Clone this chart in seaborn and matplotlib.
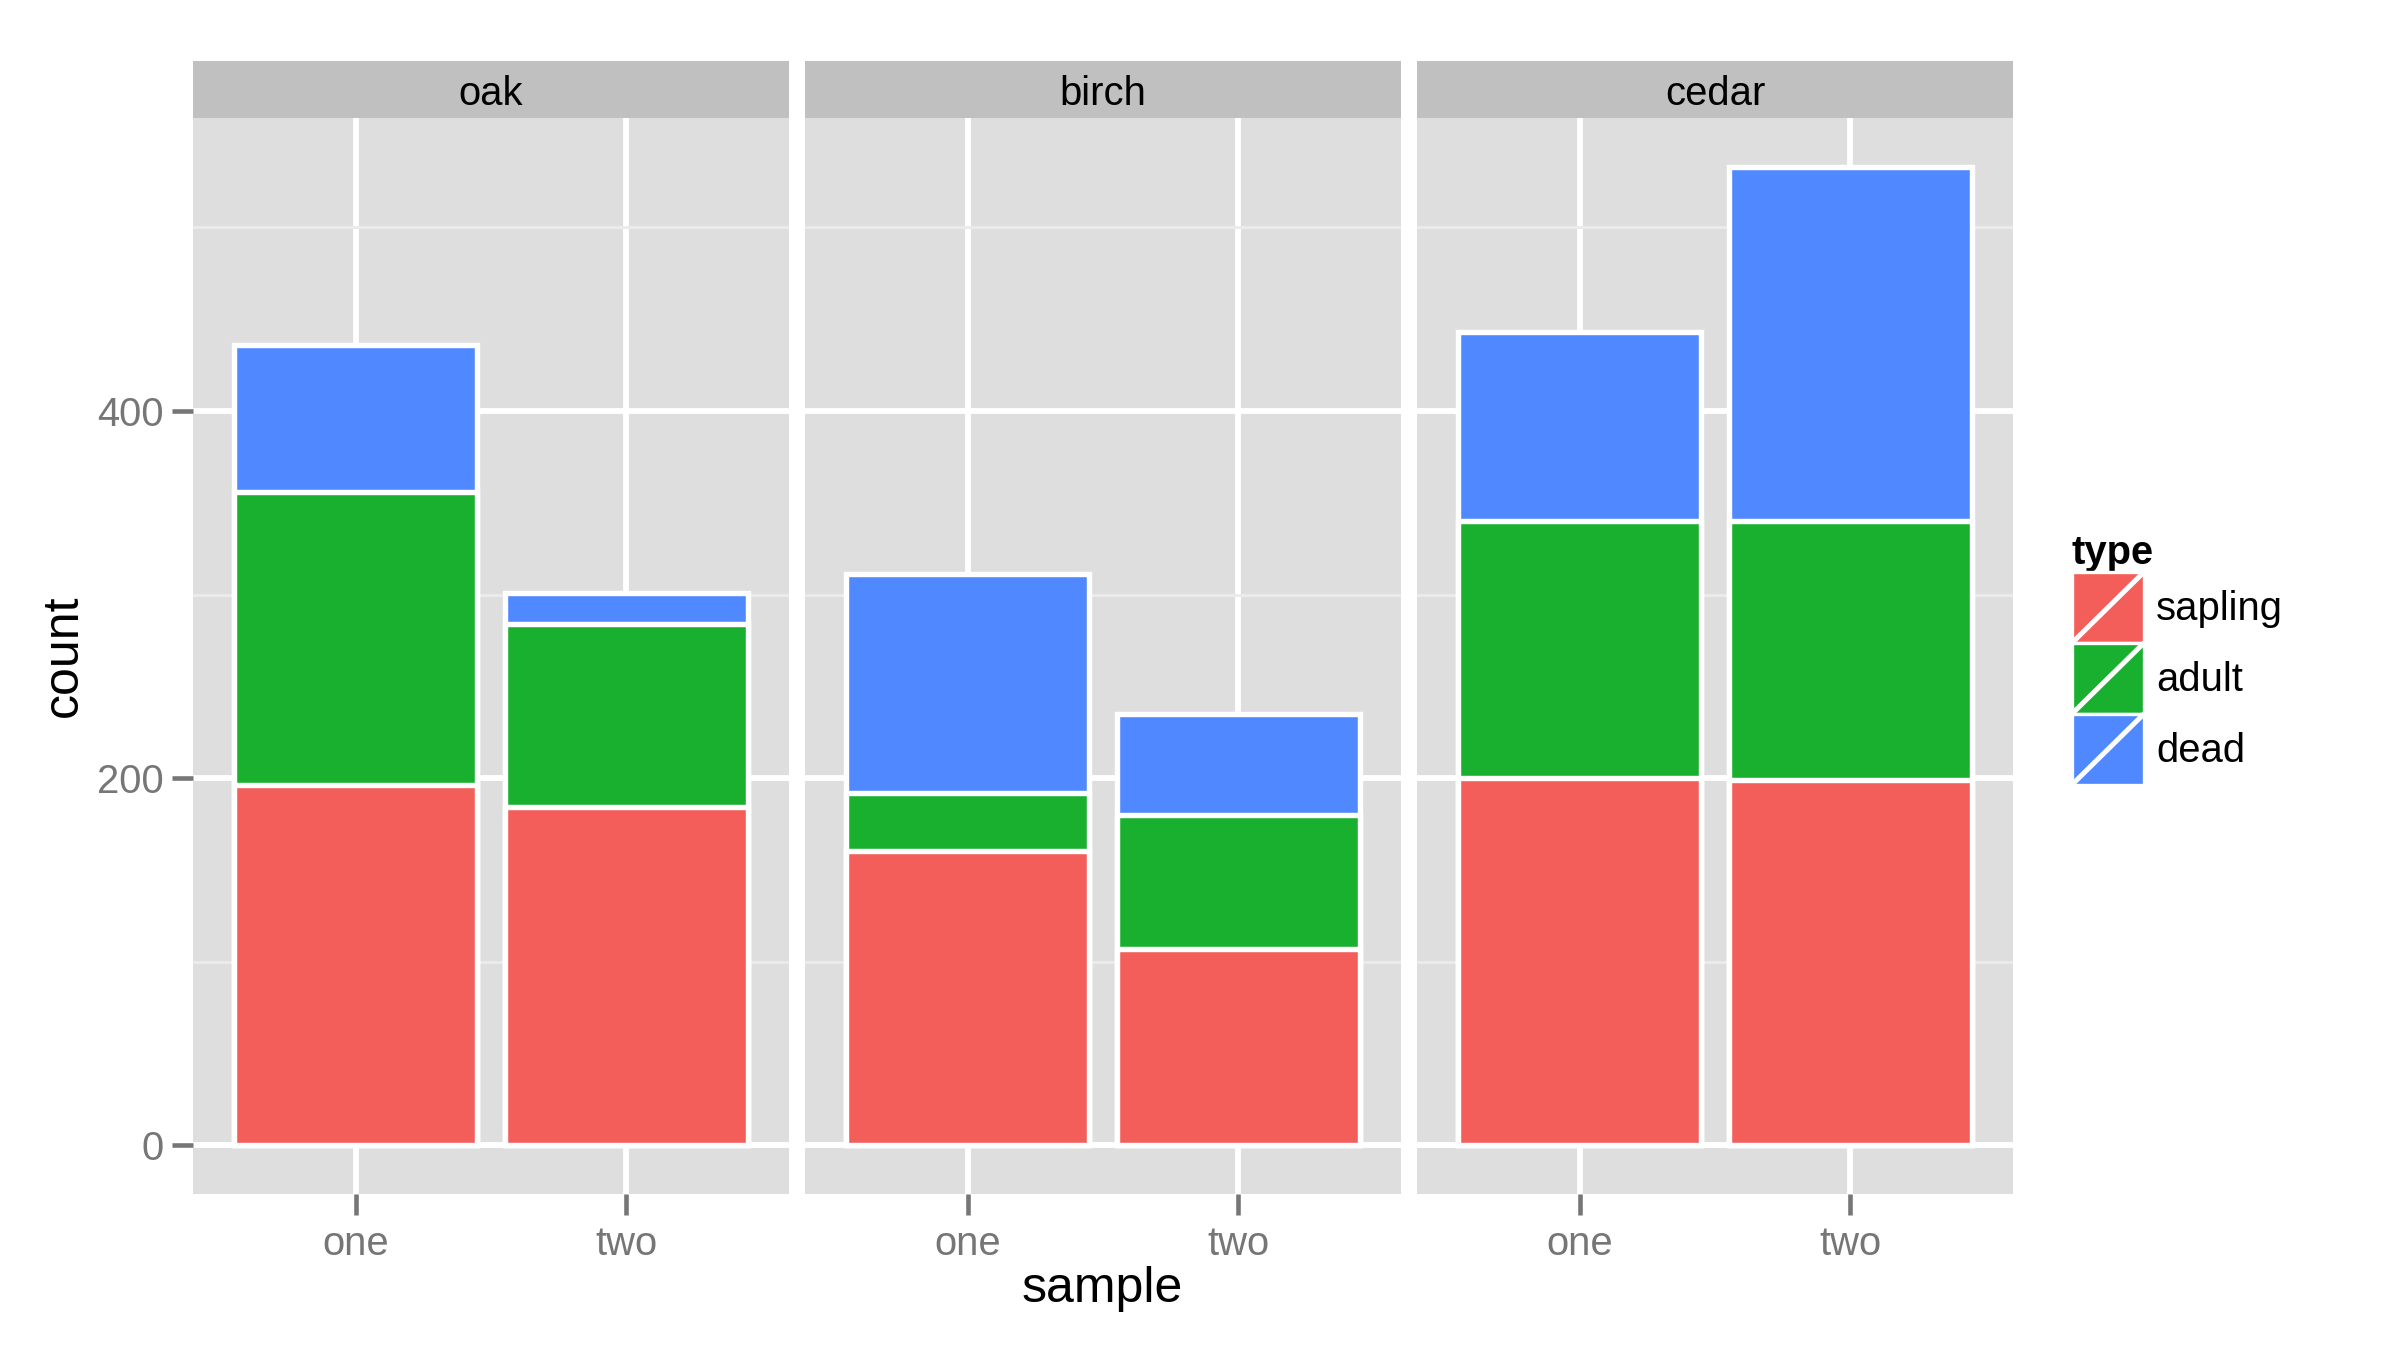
import numpy as np
import pandas as pd
import matplotlib
matplotlib.use("Agg")
import matplotlib.pyplot as plt
import seaborn as sns
from matplotlib.patches import Rectangle, Patch
from matplotlib.lines import Line2D
from matplotlib.legend_handler import HandlerBase

# ---- data ----
trees = ["oak", "birch", "cedar"]
samples = ["one", "two"]
types = ["sapling", "adult", "dead"]
sapling = [196, 184, 160, 107, 200, 199]
adult = [160, 100, 32, 73, 140, 141]
dead = [80, 17, 119, 55, 103, 193]
colors = ["#F35E5A", "#1AB02F", "#5088FF"]
yticks = [0, 200, 400]

df = pd.DataFrame({
    "tree": np.repeat(trees, len(samples)),
    "sample": samples * len(trees),
    "sapling": sapling,
    "adult": adult,
    "dead": dead,
})
df["c_sapling"] = df["sapling"]
df["c_adult"] = df["sapling"] + df["adult"]
df["c_dead"] = df["c_adult"] + df["dead"]

sns.set_theme(style="white")
plt.rcParams["font.family"] = ["Liberation Sans", "DejaVu Sans"]
plt.rcParams["text.color"] = "black"
plt.rcParams["axes.labelcolor"] = "black"

W, H = 2400, 1350
fig = plt.figure(figsize=(8, 4.5), dpi=300)

panel_bg = "#DEDEDE"
strip_bg = "#C0C0C0"
tick_col = "#767676"
panel_lefts = [193, 805, 1417]
panel_w = 596
panel_top, panel_bot = 118, 1194
strip_top = 61

ymax_total = df["c_dead"].max()
ylim = (-0.05 * ymax_total, ymax_total * 1.05)

for i, tree in enumerate(trees):
    x0 = panel_lefts[i]
    ax = fig.add_axes([x0 / W, 1 - panel_bot / H, panel_w / W, (panel_bot - panel_top) / H])
    ax.set_facecolor(panel_bg)
    sub = df[df["tree"] == tree]
    for col, c in zip(["c_dead", "c_adult", "c_sapling"], colors[::-1]):
        sns.barplot(data=sub, x="sample", y=col, order=samples, color=c, saturation=1,
                    width=0.9, edgecolor="white", linewidth=1.3, errorbar=None, ax=ax)
    ax.set_xlim(-0.6, 1.6)
    ax.set_ylim(*ylim)
    ax.set_yticks(yticks)
    ax.set_yticks([100, 300, 500], minor=True)
    ax.set_axisbelow(True)
    ax.grid(which="major", color="white", linewidth=1.4)
    ax.grid(which="minor", axis="y", color="#EBEBEB", linewidth=0.7)
    for s in ax.spines.values():
        s.set_visible(False)
    ax.set_xlabel("")
    ax.set_ylabel("")
    ax.tick_params(axis="x", which="major", length=5, width=1.1, color=tick_col,
                   labelcolor=tick_col, labelsize=9.6, pad=2.5, bottom=True)
    ax.tick_params(axis="y", which="minor", length=0)
    if i == 0:
        ax.tick_params(axis="y", which="major", length=5, width=1.1, color=tick_col,
                       labelcolor=tick_col, labelsize=9.6, pad=2, left=True)
    else:
        ax.tick_params(axis="y", which="major", length=0, labelleft=False)

    sax = fig.add_axes([x0 / W, 1 - panel_top / H, panel_w / W, (panel_top - strip_top) / H])
    sax.set_facecolor(strip_bg)
    sax.set_xticks([])
    sax.set_yticks([])
    for s in sax.spines.values():
        s.set_visible(False)
    sax.text(0.5, 0.42, tree, ha="center", va="center", fontsize=9.6, color="black",
             transform=sax.transAxes)

fig.text(1102 / W, 1 - 1289 / H, "sample", ha="center", va="center", fontsize=12,
         color="black")
fig.text(64 / W, 1 - 656 / H, "count", ha="center", va="center", rotation=90,
         fontsize=12, color="black")


class KeyHandler(HandlerBase):
    def create_artists(self, legend, orig_handle, xdescent, ydescent, width, height,
                       fontsize, trans):
        r = Rectangle((-xdescent, -ydescent), width, height,
                      facecolor=orig_handle.get_facecolor(), edgecolor="white",
                      linewidth=0.8, transform=trans)
        l = Line2D([-xdescent, -xdescent + width], [-ydescent, -ydescent + height],
                   color="white", linewidth=1.2, transform=trans)
        return [r, l]


handles = [Patch(facecolor=c) for c in colors]
leg = fig.legend(handles, types, loc="upper left",
                 bbox_to_anchor=(2072 / W, 1 - 534 / H),
                 frameon=False, fontsize=9.6, title="type",
                 title_fontproperties={"weight": "bold", "size": 9.6},
                 handler_map={Patch: KeyHandler()},
                 handlelength=1.8, handleheight=2.35, labelspacing=0.0,
                 handletextpad=0.3, borderpad=0, borderaxespad=0,
                 alignment="left", labelcolor="black")
leg.get_title().set_color("black")

fig.savefig("out.png", dpi=300, facecolor="white")
